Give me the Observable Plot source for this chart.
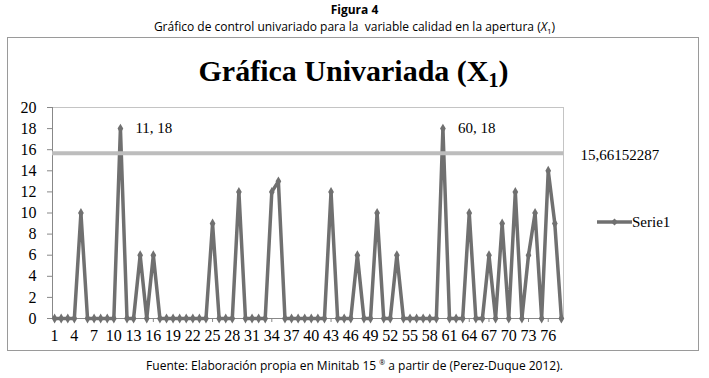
<!DOCTYPE html>
<html><head><meta charset="utf-8">
<script src="https://cdn.jsdelivr.net/npm/d3@7"></script>
<script src="https://cdn.jsdelivr.net/npm/@observablehq/plot@0.6"></script>
<style>
body{margin:0;background:#fff;}
#wrap{position:relative;width:709px;height:378px;overflow:hidden;}
.cal{font-family:"Liberation Sans Narrow","Open Sans",sans-serif;color:#000;position:absolute;left:0;width:709px;text-align:center;}
#fig{top:1px;font-size:12px;font-weight:bold;}
#sub{top:18px;font-size:12px;}
#foot{top:357px;font-size:12px;}
#box{position:absolute;left:7px;top:37px;width:692px;height:314px;border:1px solid #9a9a9a;box-sizing:border-box;}
#ctitle{position:absolute;left:0;width:707px;top:54px;text-align:center;font-family:"Liberation Serif",serif;font-weight:bold;font-size:30px;color:#000;}
#ctitle sub{font-size:20px;vertical-align:-6px;line-height:0;}
#chart{position:absolute;left:9px;top:38px;}
#chart svg text{font-family:"Liberation Serif",serif;}
#legend{position:absolute;left:590px;top:210px;}
</style></head><body>
<div id="wrap">
<div id="fig" class="cal">Figura 4</div>
<div id="sub" class="cal">Gráfico de control univariado para la&nbsp; variable calidad en la apertura (<i>X</i><sub style="font-size:8px">1</sub>)</div>
<div id="box"></div>
<div id="ctitle">Gráfica Univariada (X<sub>1</sub>)</div>
<div id="chart"></div>
<svg id="legend" width="100" height="24">
  <line x1="7" x2="42" y1="12" y2="12" stroke="#707070" stroke-width="3.5"/>
  <path d="M24.5,8.5 L28,12 L24.5,15.5 L21,12 Z" fill="#707070"/>
  <text x="42" y="12" dy="0.35em" font-family="Liberation Serif" font-size="15" fill="#000">Serie1</text>
</svg>
<div id="foot" class="cal">Fuente: Elaboración propia en Minitab 15 <sup style="font-size:7px">®</sup> a partir de (Perez-Duque 2012).</div>
</div>
<script>
const samples = d3.range(1, 79);
const values = [0,0,0,0, 10, 0,0,0,0,0, 18, 0,0, 6, 0, 6, 0,0,0,0,0,0,0,0, 9, 0,0,0, 12, 0,0,0,0, 12, 13, 0,0,0,0,0,0,0, 12, 0,0,0, 6, 0,0, 10, 0,0, 6, 0,0,0,0,0,0, 18, 0,0,0, 10, 0,0, 6, 0, 9, 0, 12, 0, 6, 10, 0, 14, 9, 0];
const xTicks = d3.range(1, 77, 3);
const yTicks = d3.range(0, 21, 2);
const limitValue = 15.66152287;
const limitLabel = "15,66152287";
const annotX = [11, 60];
const annotY = [18, 18];
const annotText = ["11, 18", "60, 18"];

const data = samples.map((s, i) => ({x: s, y: values[i]}));
const annots = annotX.map((x, i) => ({x, y: annotY[i], t: annotText[i]}));
const lineColor = "#707070";
const serif = "Liberation Serif";

const chart = Plot.plot({
  width: 690, height: 313,
  marginLeft: 43, marginRight: 136, marginTop: 69, marginBottom: 33,
  style: {fontFamily: serif, fontSize: "16px", color: "#000", background: "transparent", overflow: "visible"},
  x: {type: "linear", domain: [0.68, 78.32], label: null},
  y: {domain: [0, 20], label: null},
  marks: [
    Plot.frame({stroke: "#c4c4c4"}),
    Plot.axisY({ticks: yTicks, tickSize: 5, tickPadding: 11, stroke: "#888", fill: "#000", fontSize: 16, fontFamily: serif, label: null}),
    Plot.axisX({ticks: xTicks, tickSize: 4, tickPadding: 7, tickFormat: d => String(d), stroke: "#888", fill: "#000", fontSize: 16, fontFamily: serif, label: null}),
    Plot.ruleY([0], {stroke: "#888"}),
    Plot.ruleX([0.68], {stroke: "#888"}),
    Plot.line(data, {x: "x", y: "y", stroke: lineColor, strokeWidth: 3.5, strokeLinejoin: "miter"}),
    Plot.dot(data, {x: "x", y: "y", symbol: "diamond", r: 3, fill: lineColor}),
    Plot.ruleY([limitValue], {stroke: "#bdbdbd", strokeWidth: 4}),
    Plot.text(annots, {x: "x", y: "y", text: "t", dx: 15, textAnchor: "start", fontSize: 15, fontFamily: serif}),
    Plot.text([limitValue], {frameAnchor: "right", y: d => d, text: () => limitLabel, dx: 17, dy: 2, textAnchor: "start", fontSize: 15, fontFamily: serif})
  ]
});
document.getElementById("chart").appendChild(chart);
</script>
</body></html>
